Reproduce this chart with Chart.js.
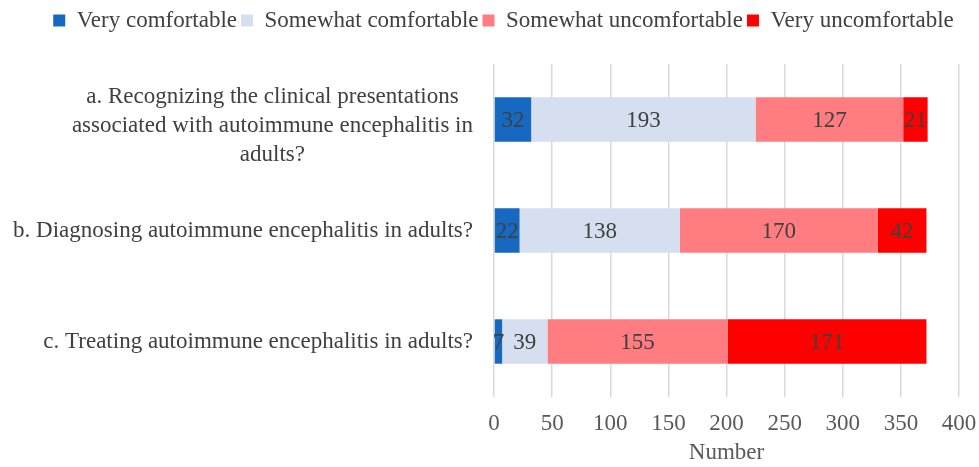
<!DOCTYPE html>
<html>
<head>
<meta charset="utf-8">
<script src="https://cdn.jsdelivr.net/npm/chart.js@4/dist/chart.umd.min.js"></script>
<style>
  html, body { margin: 0; padding: 0; background: #fff; }
  #wrap { width: 979px; height: 467px; }
</style>
</head>
<body>
<div id="wrap"><canvas id="grafico"></canvas></div>
<script>
// dados
var perguntas = [
  ['a. Recognizing the clinical presentations', 'associated with autoimmune encephalitis in', 'adults?'],
  ['b. Diagnosing autoimmune encephalitis in adults?'],
  ['c. Treating autoimmune encephalitis in adults?']
];
var muitoConfortavel = [32, 22, 7];
var poucoConfortavel = [193, 138, 39];
var poucoDesconfortavel = [127, 170, 155];
var muitoDesconfortavel = [21, 42, 171];
var ticksX = [0, 50, 100, 150, 200, 250, 300, 350, 400];

var FONTE = '"Liberation Serif", "Times New Roman", serif';
var TAM = 23;
var COR_TEXTO = '#404040';
var MARGEM_ESQ = 28; // so para centralizar a legenda como no original

// escreve o valor no meio de cada barra
var rotulosBarras = {
  id: 'rotulosBarras',
  afterDatasetsDraw: function(chart) {
    var ctx = chart.ctx;
    ctx.save();
    ctx.font = TAM + 'px ' + FONTE;
    ctx.fillStyle = COR_TEXTO;
    ctx.textAlign = 'center';
    ctx.textBaseline = 'middle';
    chart.data.datasets.forEach(function(ds, i) {
      chart.getDatasetMeta(i).data.forEach(function(bar, j) {
        var p = bar.getCenterPoint();
        ctx.fillText(ds.data[j], p.x, p.y + 1);
      });
    });
    ctx.restore();
  }
};

// rotulos do eixo y: bloco alinhado a direita, linhas centralizadas
var rotulosEixoY = {
  id: 'rotulosEixoY',
  afterDraw: function(chart) {
    var ctx = chart.ctx;
    var escala = chart.scales.y;
    var direita = 473, alturaLinha = 29;
    ctx.save();
    ctx.font = TAM + 'px ' + FONTE;
    ctx.fillStyle = COR_TEXTO;
    ctx.textAlign = 'center';
    ctx.textBaseline = 'middle';
    perguntas.forEach(function(linhas, i) {
      var maior = 0;
      linhas.forEach(function(l) { maior = Math.max(maior, ctx.measureText(l).width); });
      var cx = direita - maior / 2;
      var cy = escala.getPixelForValue(i) + (linhas.length > 1 ? 6 : 0);
      var topo = cy - (linhas.length - 1) * alturaLinha / 2;
      linhas.forEach(function(l, k) {
        ctx.fillText(l, cx, topo + k * alturaLinha);
      });
    });
    ctx.restore();
  }
};

// espaco extra abaixo da legenda
var margemLegenda = {
  id: 'margemLegenda',
  beforeInit: function(chart) {
    var fitOriginal = chart.legend.fit;
    chart.legend.fit = function() {
      fitOriginal.bind(chart.legend)();
      this.height = 59;
    };
  }
};

var grafico = new Chart(document.getElementById('grafico').getContext('2d'), {
  type: 'bar',
  data: {
    labels: perguntas,
    datasets: [
      { label: 'Very comfortable', data: muitoConfortavel, backgroundColor: '#1668C0' },
      { label: 'Somewhat comfortable', data: poucoConfortavel, backgroundColor: '#D6DFEF' },
      { label: 'Somewhat uncomfortable', data: poucoDesconfortavel, backgroundColor: '#FF7C80' },
      { label: 'Very uncomfortable', data: muitoDesconfortavel, backgroundColor: '#FF0000' }
    ]
  },
  options: {
    indexAxis: 'y',
    responsive: true,
    maintainAspectRatio: false,
    animation: false,
    layout: { padding: { top: 5, left: MARGEM_ESQ, right: 0, bottom: 0 } },
    datasets: { bar: { barPercentage: 0.4, categoryPercentage: 1 } },
    scales: {
      x: {
        stacked: true,
        min: 0,
        max: 400,
        afterBuildTicks: function(axis) {
          axis.ticks = ticksX.map(function(v) { return { value: v }; });
        },
        afterFit: function(axis) {
          axis.height = 70;
          axis.paddingLeft = 0;
          axis.paddingRight = 20;
        },
        grid: { color: '#D9D9D9', lineWidth: 1.5, drawTicks: false },
        border: { display: false },
        ticks: { padding: 13, color: '#595959', font: { family: FONTE, size: TAM } },
        title: {
          display: true,
          text: 'Number',
          color: '#595959',
          padding: { top: 4, bottom: 0 },
          font: { family: FONTE, size: TAM }
        }
      },
      y: {
        stacked: true,
        grid: { display: false },
        border: { display: false },
        ticks: { display: false },
        afterFit: function(axis) { axis.width = 494 - MARGEM_ESQ; }
      }
    },
    plugins: {
      legend: {
        position: 'top',
        labels: {
          boxWidth: 12,
          boxHeight: 12,
          padding: 4,
          color: COR_TEXTO,
          font: { family: FONTE, size: TAM }
        }
      },
      tooltip: { enabled: false }
    }
  },
  plugins: [rotulosBarras, rotulosEixoY, margemLegenda]
});
</script>
</body>
</html>
